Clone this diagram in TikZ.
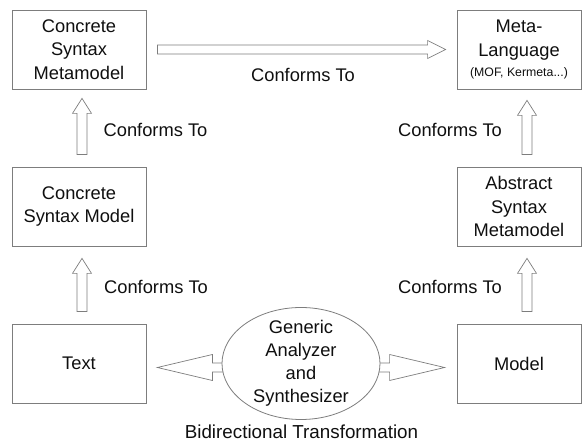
\documentclass[tikz,border=0pt]{standalone}
\usepackage{fontspec}
\setmainfont{Liberation Sans}
\usetikzlibrary{calc,shapes.geometric,backgrounds}
\definecolor{edgec}{RGB}{125,125,125}
\definecolor{inkc}{RGB}{15,15,15}
\newcommand\mainfs{\fontsize{18.3}{23.5}\selectfont}
\newcommand\smallfs{\fontsize{12.3}{14}\selectfont}
% block arrow: from, to, shaft half width, head half width, head length
\newcommand\blkarrow[5]{%
  \coordinate (ba-hb) at ($(#2)!#5!(#1)$);
  \draw[blk] ($(#1)!#3!90:(#2)$) -- ($(ba-hb)!#3!-90:(#1)$) -- ($(ba-hb)!#4!-90:(#1)$)
    -- (#2) -- ($(ba-hb)!#4!90:(#1)$) -- ($(ba-hb)!#3!90:(#1)$) -- ($(#1)!#3!-90:(#2)$) -- cycle;}
\begin{document}
\begin{tikzpicture}[x=1pt,y=1pt,
  box/.style={draw=edgec, line width=0.8pt, minimum width=134pt, minimum height=79pt,
    inner sep=0pt, align=center, font=\mainfs, text=inkc},
  narrowbox/.style={box, minimum width=124pt},
  lbl/.style={font=\mainfs, text=inkc, inner sep=0pt},
  blk/.style={draw=edgec, line width=0.7pt, fill=white, line join=miter}]
\useasboundingbox (0,0) rectangle (582,442);
% boxes
\node[box] (csmm) at (79,392.5) {Concrete\\Syntax\\Metamodel};
\node[narrowbox] (meta) at (519,392.5) {Meta-\\Language\\[-3pt]{\smallfs (MOF, Kermeta...)}};
\node[box] (csm) at (79,235.5) {Concrete\\Syntax Model};
\node[narrowbox] (asmm) at (519,235.5) {Abstract\\Syntax\\Metamodel};
\node[box] (txt) at (79,78.5) {Text};
\node[narrowbox] (mdl) at (519,78.5) {Model};
\node[ellipse, draw=edgec, line width=0.8pt, fill=white, minimum width=158pt,
  minimum height=112pt, inner sep=0pt] (gas) at (301,78.5) {};
\node[lbl, align=center, font=\fontsize{18.3}{23}\selectfont] (gastext) at (gas.center) {Generic\\Analyzer\\and\\Synthesizer};
% connector coordinates
\coordinate (u1s) at ($(csm.north)+(3,12)$);
\coordinate (u1e) at ($(csmm.south)+(3,-9)$);
\coordinate (u2s) at ($(txt.north)+(3,12)$);
\coordinate (u2e) at ($(csm.south)+(3,-12)$);
\coordinate (u3s) at ($(asmm.north)+(8,12)$);
\coordinate (u3e) at ($(meta.south)+(8,-11)$);
\coordinate (u4s) at ($(mdl.north)+(8,12)$);
\coordinate (u4e) at ($(asmm.south)+(8,-12)$);
\coordinate (hs) at ($(csmm.east)+(11,0)$);
\coordinate (he) at ($(meta.west)+(-11,0)$);
\coordinate (ls) at ($(gas.west)+(3,-4)$);
\coordinate (le) at ($(txt.east)+(11,-4)$);
\coordinate (rs) at ($(gas.east)+(-3,-4)$);
\coordinate (re) at ($(mdl.west)+(-12,-4)$);
\begin{scope}[on background layer]
\blkarrow{u1s}{u1e}{5pt}{9.5pt}{15pt}
\blkarrow{u2s}{u2e}{5pt}{9.5pt}{15pt}
\blkarrow{u3s}{u3e}{5pt}{9.5pt}{15pt}
\blkarrow{u4s}{u4e}{5pt}{9.5pt}{15pt}
\blkarrow{hs}{he}{4.5pt}{9pt}{18pt}
\blkarrow{ls}{le}{4.5pt}{13pt}{55pt}
\blkarrow{rs}{re}{4.5pt}{13pt}{55pt}
\end{scope}
% labels
\node[lbl] (c1) at (155.5,312) {Conforms To};
\node[lbl] (c2) at (156,155) {Conforms To};
\node[lbl] (c3) at (450,312) {Conforms To};
\node[lbl] (c4) at (450,155) {Conforms To};
\node[lbl] (c5) at (303,367) {Conforms To};
\node[lbl, font=\fontsize{18.8}{22}\selectfont] (bt) at (301.5,10) {Bidirectional Transformation};
\end{tikzpicture}
\end{document}
